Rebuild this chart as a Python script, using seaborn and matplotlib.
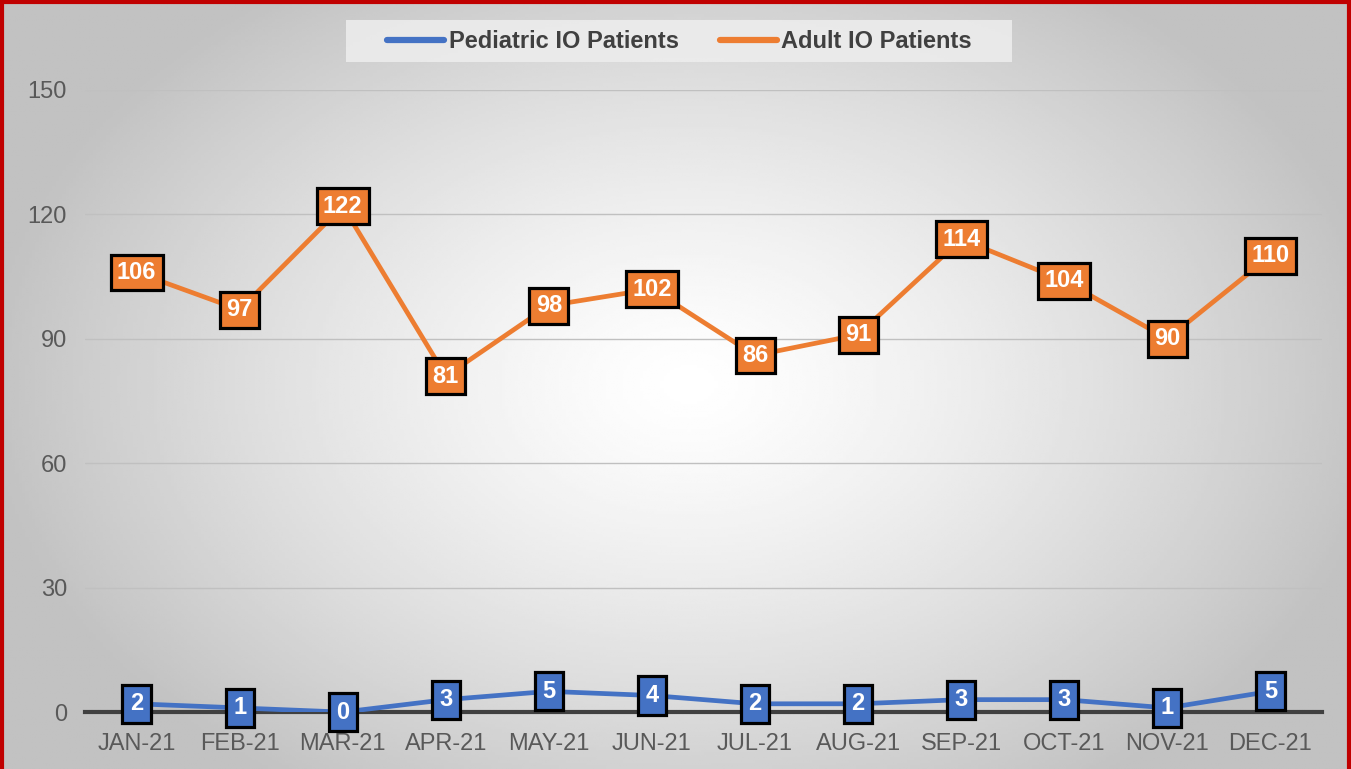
import numpy as np
import pandas as pd
import matplotlib
matplotlib.use("Agg")
import matplotlib.pyplot as plt
import seaborn as sns
from matplotlib.patches import Rectangle

# datos del grafico
meses = ["JAN-21", "FEB-21", "MAR-21", "APR-21", "MAY-21", "JUN-21",
         "JUL-21", "AUG-21", "SEP-21", "OCT-21", "NOV-21", "DEC-21"]
pediatricos = [2, 1, 0, 3, 5, 4, 2, 2, 3, 3, 1, 5]
adultos = [106, 97, 122, 81, 98, 102, 86, 91, 114, 104, 90, 110]
series = ["Pediatric IO Patients", "Adult IO Patients"]
colores = {"Pediatric IO Patients": "#4472C4", "Adult IO Patients": "#ED7D31"}
y_ticks = [0, 30, 60, 90, 120, 150]

df = pd.DataFrame({
    "pos": list(range(len(meses))) * 2,
    "valor": pediatricos + adultos,
    "serie": [series[0]] * len(meses) + [series[1]] * len(meses),
})

sns.set_theme(style="white")
plt.rcParams["font.family"] = ["Liberation Sans", "DejaVu Sans"]

fig = plt.figure(figsize=(13.51, 7.69), dpi=100)

# fondo con degradado radial
bg = fig.add_axes([0, 0, 1, 1], zorder=-10)
xx, yy = np.meshgrid(np.linspace(0, 1, 400), np.linspace(0, 1, 300))
dist = np.sqrt(((xx - 0.51) / 0.62) ** 2 + ((yy - 0.50) / 0.75) ** 2)
grad = np.clip(1.0 - 0.30 * dist ** 1.3, 0.76, 1.0)
bg.imshow(grad, cmap="gray", vmin=0, vmax=1, aspect="auto",
          extent=[0, 1, 0, 1], origin="upper")
bg.set_axis_off()
# fondo de la leyenda
bg.add_patch(Rectangle((346 / 1351, 1 - 62 / 769), 666 / 1351, 42 / 769,
                       transform=bg.transAxes, fc="#eeeeee", ec="none", alpha=0.85))

ax = fig.add_axes([0.063, 0.074, 0.9155, 0.809])
ax.patch.set_alpha(0)

sns.lineplot(data=df, x="pos", y="valor", hue="serie", palette=colores,
             linewidth=3.4, ax=ax, legend=False, zorder=3,
             solid_capstyle="round")

# etiquetas de datos en cajas
for nombre, vals in zip(series, [pediatricos, adultos]):
    for i, v in enumerate(vals):
        ax.text(i, v, str(v), ha="center", va="center", color="white",
                fontsize=17, fontweight="bold", zorder=5,
                bbox=dict(boxstyle="square,pad=0.27" if v >= 10 else "square,pad=0.32",
                          fc=colores[nombre], ec="black", lw=2.3))

ax.set_xlim(-0.5, len(meses) - 0.5)
ax.set_ylim(0, 150)
ax.set_yticks(y_ticks)
ax.set_xticks(range(len(meses)))
ax.set_xticklabels(meses)
ax.set_xticks(np.arange(-0.5, len(meses), 1), minor=True)
ax.tick_params(axis="x", which="major", length=0, labelsize=17, colors="#595959", pad=15)
ax.tick_params(axis="x", which="minor", length=6, width=2.5, color="#404040", direction="out")
ax.tick_params(axis="y", length=0, labelsize=17, colors="#595959", pad=13)
ax.set_xlabel("")
ax.set_ylabel("")
ax.grid(axis="y", color="#c0c0c0", linewidth=1)
ax.grid(axis="x", visible=False)
for lado in ["top", "right", "left"]:
    ax.spines[lado].set_visible(False)
ax.spines["bottom"].set_color("#404040")
ax.spines["bottom"].set_linewidth(3)
ax.spines["bottom"].set_zorder(2)

# leyenda
handles = [plt.Line2D([], [], color=colores[s], lw=4.5, solid_capstyle="round") for s in series]
leg = fig.legend(handles, series, loc="center", bbox_to_anchor=(0.503, 0.946),
                 ncol=2, frameon=False, handlelength=2.4,
                 handletextpad=0.2, columnspacing=1.75,
                 borderaxespad=0, prop={"size": 17, "weight": "bold"})
for t in leg.get_texts():
    t.set_color("#404040")

# borde rojo
fig.patches.append(Rectangle((0.0015, -0.05), 0.997, 1.047, transform=fig.transFigure,
                             fill=False, ec="#C00000", lw=3, zorder=20))

fig.savefig("out.png", dpi=100)
